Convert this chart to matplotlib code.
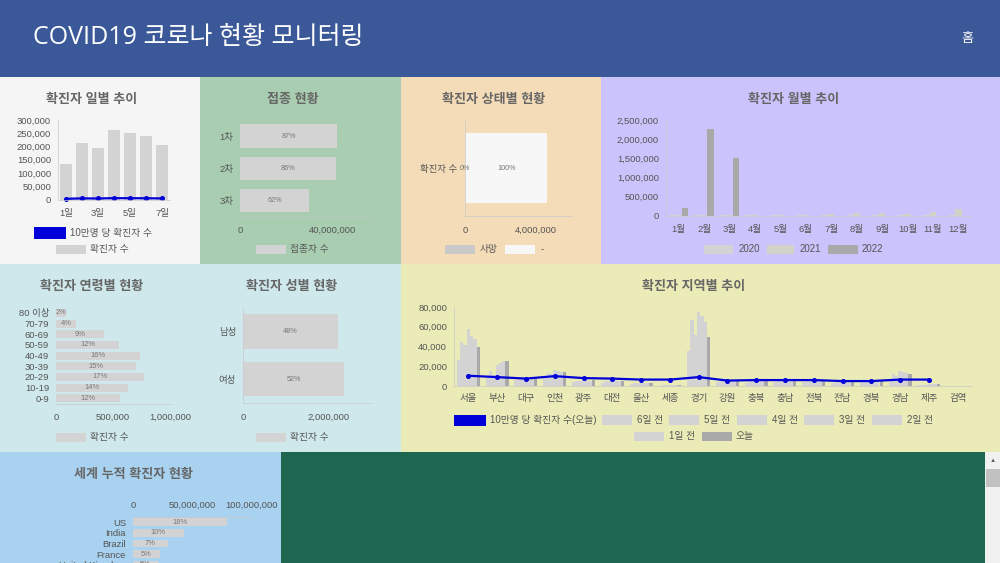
import matplotlib
matplotlib.use("Agg")
import matplotlib.pyplot as plt
from matplotlib.patches import Rectangle
import numpy as np

plt.rcParams['font.family'] = ['Liberation Sans', 'Noto Sans CJK KR', 'DejaVu Sans']

W, H = 1000, 563
TXT = '#555555'
AX = '#c9c9c9'
BAR = '#d3d3d3'
DARK = '#a9a9a9'
BLUE = '#0000d8'

# ---- data ----
day_labels = ['1일', '2일', '3일', '4일', '5일', '6일', '7일']
day_cases = [135000, 215000, 195000, 262000, 250000, 240000, 205000]
day_per100k = [2600, 4200, 3800, 5100, 4800, 4700, 4000]

vacc_labels = ['1차', '2차', '3차']
vacc_values = [42200000, 41800000, 30200000]
vacc_pct = ['87%', '86%', '62%']

status_dead = [22000]
status_other = [4600000]

month_labels = ['1월', '2월', '3월', '4월', '5월', '6월', '7월', '8월', '9월', '10월', '11월', '12월']
month_2020 = [11, 3000, 6800, 980, 730, 1330, 1500, 5600, 3600, 2700, 8000, 26000]
month_2021 = [17000, 11000, 13000, 19000, 18000, 16000, 41000, 53000, 60000, 52000, 82000, 160000]
month_2022 = [200000, 2260000, 1500000, 0, 0, 0, 0, 0, 0, 0, 0, 0]

age_labels = ['80 이상', '70-79', '60-69', '50-59', '40-49', '30-39', '20-29', '10-19', '0-9']
age_values = [90000, 175000, 421000, 553000, 737000, 702000, 772000, 632000, 561000]
age_pct = ['2%', '4%', '9%', '12%', '16%', '15%', '17%', '14%', '12%']

sex_labels = ['남성', '여성']
sex_values = [2210000, 2350000]
sex_pct = ['48%', '52%']

regions = ['서울', '부산', '대구', '인천', '광주', '대전', '울산', '세종', '경기', '강원',
           '충북', '충남', '전북', '전남', '경북', '경남', '제주', '검역']
region_d6 = [26000, 10000, 6000, 9000, 4000, 3500, 2000, 500, 35000, 4000, 3500, 4500, 4000, 3500, 4000, 7000, 1000, 10]
region_d5 = [45000, 15000, 7000, 13000, 5000, 5000, 3000, 1000, 67000, 5500, 5500, 6500, 6000, 5000, 6000, 12000, 1500, 10]
region_d4 = [42000, 11000, 7000, 12000, 5000, 5000, 3000, 1000, 52000, 5000, 5000, 6000, 5500, 5000, 5500, 10000, 1500, 10]
region_d3 = [58000, 21000, 8000, 16000, 6000, 6000, 3500, 1200, 75000, 6500, 6000, 7000, 7000, 6000, 7000, 15000, 2000, 10]
region_d2 = [51000, 23000, 8000, 15000, 6000, 6000, 3500, 1200, 71000, 6000, 6000, 7000, 6500, 5500, 6500, 14000, 2000, 10]
region_d1 = [48000, 25000, 8000, 14000, 5500, 5500, 3500, 1100, 65000, 6000, 5500, 6500, 6000, 5500, 6000, 13000, 2000, 10]
region_d0 = [39000, 25000, 8000, 14000, 6000, 5500, 3000, 1000, 50000, 5500, 5000, 6000, 5500, 5000, 5500, 12500, 2500, 10]
region_per100k = [10400, 9000, 7500, 10000, 8000, 7500, 6500, 6500, 9000, 5500, 6000, 6000, 6000, 5000, 5000, 6500, 6500, np.nan]

world_labels = ['US', 'India', 'Brazil', 'France', 'United Kingdom']
world_values = [79000000, 42500000, 29000000, 22500000, 21000000]
world_pct = ['18%', '10%', '7%', '5%', '5%']

fig = plt.figure(figsize=(W / 100, H / 100), dpi=100, facecolor='white')


def block(x0, y0, x1, y1, color, **kw):
    fig.add_artist(Rectangle((x0 / W, 1 - y1 / H), (x1 - x0) / W, (y1 - y0) / H,
                             transform=fig.transFigure, facecolor=color,
                             edgecolor='none', zorder=kw.pop('zorder', 0), **kw))


def label(x, y, s, size=7.0, color=TXT, ha='left', **kw):
    fig.text(x / W, 1 - y / H, s, fontsize=size, color=color, ha=ha, va='center', **kw)


def mkax(x0, y0, x1, y1):
    ax = fig.add_axes([x0 / W, 1 - y1 / H, (x1 - x0) / W, (y1 - y0) / H])
    ax.patch.set_alpha(0)
    for s in ('top', 'right'):
        ax.spines[s].set_visible(False)
    for s in ('left', 'bottom'):
        ax.spines[s].set_color(AX)
        ax.spines[s].set_linewidth(0.5)
    ax.tick_params(length=0, labelsize=6.8, labelcolor=TXT)
    ax.tick_params(axis='x', pad=7)
    ax.tick_params(axis='y', pad=5)
    ax.set_axisbelow(True)
    return ax


def swatch(x0, x1, y, h, color):
    block(x0, y - h / 2, x1, y + h / 2, color, zorder=3)


def title(x, y, s):
    label(x, y + 2, s, size=9.4, color='#666666', ha='center', fontweight='bold')


def hbar_pct(ax, values, pct, size=5.2):
    for i, (v, p) in enumerate(zip(values, pct)):
        ax.text(v / 2, i, p, ha='center', va='center', fontsize=size, color='#777777')


# ---- page blocks ----
block(0, 0, 1000, 77, '#3b5998')
block(0, 77, 200, 264, '#f5f5f5')
block(200, 77, 401, 264, '#a8cdb0')
block(401, 77, 601, 264, '#f5dcb8')
block(601, 77, 1000, 264, '#cbc3fb')
block(0, 264, 401, 452, '#cfe8ec')
block(401, 264, 1000, 452, '#ebebb8')
block(0, 452, 281, 563, '#a9d2f0')
block(281, 452, 985, 563, '#1f6650')
block(985, 452, 1000, 563, '#f1f1f1')
block(986, 469, 1000, 487, '#c1c1c1')
label(992.5, 460, '▲', size=4.5, color='#606060', ha='center')

label(33, 38, 'COVID19 코로나 현황 모니터링', size=18.0, color='white',
      family=['Open Sans', 'Noto Sans CJK KR'])
label(967, 39, '홈', size=9.5, color='white', ha='center')

# ---- daily ----
title(92, 98, '확진자 일별 추이')
ax = mkax(58, 120, 170, 199.5)
ax.bar(range(7), day_cases, width=0.75, color=BAR)
ax.plot(range(7), day_per100k, color=BLUE, lw=1.6, marker='o', ms=2.6, clip_on=False)
ax.set_xlim(-0.5, 6.5)
ax.set_ylim(0, 300000)
ax.set_yticks(range(0, 300001, 50000), [f'{v:,}' for v in range(0, 300001, 50000)])
ax.set_xticks(range(0, 7, 2), day_labels[::2])
swatch(34, 66, 233, 11, BLUE)
label(70, 233, '10만명 당 확진자 수')
swatch(56, 86, 249, 9, BAR)
label(90, 249, '확진자 수')

# ---- vaccination ----
title(293, 98, '접종 현황')
ax = mkax(240, 120, 370, 216.5)
ax.barh(range(3), vacc_values, height=0.73, color=BAR)
hbar_pct(ax, vacc_values, vacc_pct)
ax.set_ylim(2.5, -0.5)
ax.set_xlim(0, 56500000)
ax.set_xticks([0, 40000000], ['0', '40,000,000'])
ax.set_yticks(range(3), vacc_labels)
ax.spines['left'].set_visible(False)
swatch(256, 286, 249, 9, BAR)
label(290, 249, '접종자 수')

# ---- status ----
title(494, 98, '확진자 상태별 현황')
ax = mkax(465, 120, 572, 216)
ax.barh([0], status_dead, height=0.72, color=BAR)
ax.barh([0], status_other, left=status_dead, height=0.72, color='#f7f7f7')
ax.text(0, 0, '0%', ha='center', va='center', fontsize=5.2, color='#777777')
ax.text(status_dead[0] + status_other[0] / 2, 0, '100%', ha='center', va='center',
        fontsize=5.2, color='#777777')
ax.set_ylim(-0.5, 0.5)
ax.set_xlim(0, 6030000)
ax.set_xticks([0, 4000000], ['0', '4,000,000'])
ax.set_yticks([0], ['확진자 수'])
ax.tick_params(axis='y', pad=6)
swatch(445, 475, 249, 9, '#c9c9c9')
label(480, 249, '사망')
swatch(505, 535, 249, 9, '#f7f7f7')
label(541, 249, '-')

# ---- monthly ----
title(794, 98, '확진자 월별 추이')
ax = mkax(666, 120, 971, 215.5)
xs = np.arange(12)
bw = 0.255
ax.bar(xs - bw, month_2020, width=bw, color=BAR)
ax.bar(xs, month_2021, width=bw, color='#d2d2c8')
ax.bar(xs + bw, month_2022, width=bw, color=DARK)
ax.set_xlim(-0.5, 11.5)
ax.set_ylim(0, 2500000)
ax.set_xticks(xs, month_labels)
ax.set_yticks(range(0, 2500001, 500000), [f'{v:,}' for v in range(0, 2500001, 500000)])
for x0, x1, tx, s, c in [(704, 733, 739, '2020', BAR), (767, 794, 800, '2021', '#d2d2c8'),
                         (828, 858, 862, '2022', DARK)]:
    swatch(x0, x1, 249, 9, c)
    label(tx, 249, s)

# ---- age ----
title(92, 285, '확진자 연령별 현황')
ax = mkax(56, 307.5, 172, 403.5)
ax.barh(range(9), age_values, height=0.75, color=BAR)
hbar_pct(ax, age_values, age_pct, size=5.4)
ax.set_ylim(8.5, -0.5)
ax.set_xlim(0, 1017000)
ax.set_xticks([0, 500000, 1000000], ['0', '500,000', '1,000,000'])
ax.set_yticks(range(9), age_labels)
ax.spines['left'].set_visible(False)
swatch(56, 86, 437, 9, BAR)
label(90, 437, '확진자 수')

# ---- sex ----
title(292, 285, '확진자 성별 현황')
ax = mkax(243, 307.5, 372, 403)
ax.barh(range(2), sex_values, height=0.72, color=BAR)
hbar_pct(ax, sex_values, sex_pct)
ax.set_ylim(1.5, -0.5)
ax.set_xlim(0, 3000000)
ax.set_xticks([0, 2000000], ['0', '2,000,000'])
ax.set_yticks(range(2), sex_labels)
swatch(256, 286, 437, 9, BAR)
label(290, 437, '확진자 수')

# ---- regions ----
title(694, 285, '확진자 지역별 추이')
ax = mkax(454, 307, 972, 386)
xs = np.arange(18)
series = [region_d6, region_d5, region_d4, region_d3, region_d2, region_d1, region_d0]
cols = [BAR] * 6 + [DARK]
bw = 0.8 / 7
for i, (vals, c) in enumerate(zip(series, cols)):
    ax.bar(xs + (i - 3) * bw, vals, width=bw, color=c)
ax.plot(xs, region_per100k, color=BLUE, lw=1.6, marker='o', ms=2.6)
ax.set_xlim(-0.5, 17.5)
ax.set_ylim(0, 80000)
ax.set_xticks(xs, regions)
ax.tick_params(axis='x', pad=6)
ax.set_yticks(range(0, 80001, 20000), [f'{v:,}' for v in range(0, 80001, 20000)])
swatch(454, 486, 420, 11, BLUE)
label(490, 420, '10만명 당 확진자 수(오늘)')
for x0, s in [(602, '6일 전'), (669, '5일 전'), (737, '4일 전'), (804, '3일 전'), (872, '2일 전')]:
    swatch(x0, x0 + 30, 420, 10, BAR)
    label(x0 + 35, 420, s)
swatch(634, 664, 436, 9, BAR)
label(669, 436, '1일 전')
swatch(702, 732, 436, 9, DARK)
label(736, 436, '오늘')

# ---- world ----
title(133, 473, '세계 누적 확진자 현황')
ax = mkax(133, 517, 252, 570)
ax.barh(range(5), world_values, height=0.72, color=BAR)
hbar_pct(ax, world_values, world_pct, size=5.4)
ax.set_ylim(4.5, -0.5)
ax.set_xlim(0, 100000000)
ax.xaxis.tick_top()
ax.spines['top'].set_visible(True)
ax.spines['top'].set_color(AX)
ax.spines['top'].set_linewidth(0.5)
ax.spines['bottom'].set_visible(False)
ax.spines['left'].set_visible(False)
ax.set_xticks([0, 50000000, 100000000], ['0', '50,000,000', '100,000,000'])
ax.tick_params(axis='x', pad=5)
ax.set_yticks(range(5), world_labels)

fig.savefig('out.png', dpi=100)
